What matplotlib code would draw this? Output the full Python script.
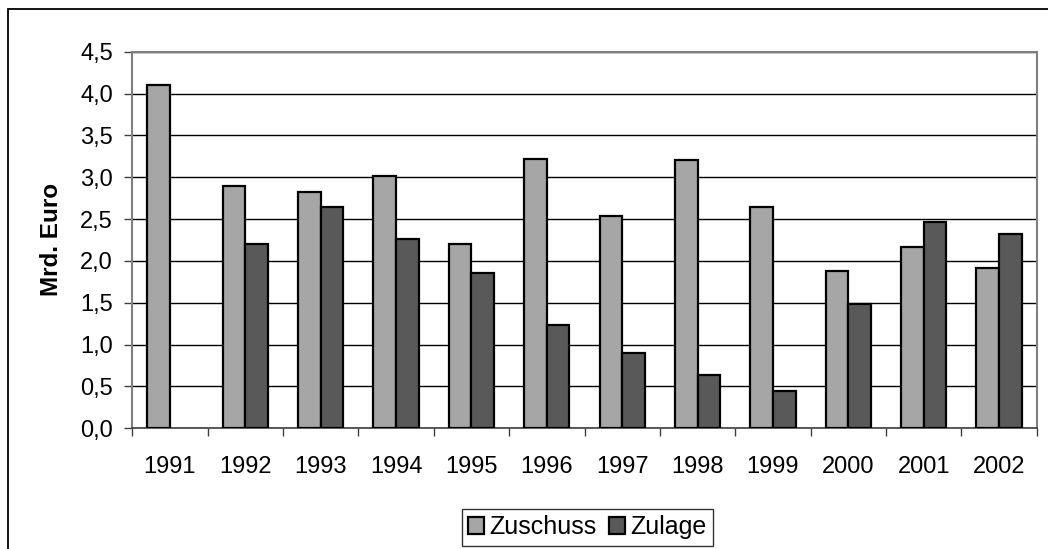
import numpy as np
import matplotlib
matplotlib.use("Agg")
import matplotlib.pyplot as plt
from matplotlib.patches import Rectangle

plt.rcParams['font.family'] = ['Liberation Sans', 'DejaVu Sans']

years = ['1991', '1992', '1993', '1994', '1995', '1996',
         '1997', '1998', '1999', '2000', '2001', '2002']
zuschuss = [4.10, 2.90, 2.82, 3.01, 2.20, 3.22, 2.54, 3.21, 2.64, 1.88, 2.17, 1.91]
zulage = [0.0, 2.20, 2.65, 2.26, 1.85, 1.23, 0.90, 0.64, 0.45, 1.49, 2.47, 2.32]
yticks = [0.0, 0.5, 1.0, 1.5, 2.0, 2.5, 3.0, 3.5, 4.0, 4.5]

W, H = 1048, 549
fig = plt.figure(figsize=(W / 100, H / 100), dpi=100)
ax = fig.add_axes([132.3 / W, 1 - 428.3 / H, (1036.7 - 132.3) / W, (428.3 - 51.7) / H])

x = np.arange(len(years))
bw = 0.30
ax.bar(x - bw / 2, zuschuss, bw, color='#a6a6a6', edgecolor='black', linewidth=1.6,
       label='Zuschuss', zorder=3)
# 1991 has no Zulage value, so skip drawing a bar there
zl = np.array(zulage)
ax.bar(x[zl > 0] + bw / 2, zl[zl > 0], bw, color='#595959', edgecolor='black',
       linewidth=1.6, label='Zulage', zorder=3)

ax.set_xlim(-0.5, len(years) - 0.5)
ax.set_ylim(0, 4.5)
ax.set_yticks(yticks)
ax.set_yticklabels([f'{v:.1f}'.replace('.', ',') for v in yticks], fontsize=17)
ax.set_xticks(x)
ax.set_xticklabels(years, fontsize=17)
ax.set_xticks(np.arange(-0.5, len(years)), minor=True)
ax.tick_params(axis='x', which='major', length=0, pad=20)
ax.tick_params(axis='x', which='minor', length=6, width=1, color='#404040')
ax.tick_params(axis='y', length=6, width=1, color='#404040', pad=8)

ax.yaxis.grid(True, color='black', linewidth=1)
ax.set_axisbelow(True)
for s in ['left', 'top', 'right']:
    ax.spines[s].set_color('#808080')
    ax.spines[s].set_linewidth(1.5)
ax.spines['bottom'].set_color('#404040')
ax.spines['bottom'].set_linewidth(1.2)

fig.text(51 / W, 1 - 239 / H, 'Mrd. Euro', rotation=90, fontsize=17.5,
         fontweight='bold', ha='center', va='center')

leg = fig.legend(loc='center', bbox_to_anchor=(587 / W, 1 - 527.3 / H), ncol=2,
                 fontsize=18, frameon=True, fancybox=False, edgecolor='black',
                 handlelength=0.65, handleheight=0.65, handletextpad=0.2,
                 columnspacing=0.5, borderpad=0.25, borderaxespad=0)
leg.get_frame().set_linewidth(1.0)

fig.add_artist(Rectangle((8.3 / W, -0.1), 1.2, 1.1 - 9.3 / H, transform=fig.transFigure,
                         fill=False, edgecolor='black', linewidth=1.3))

fig.savefig('out.png', dpi=100, facecolor='white')
